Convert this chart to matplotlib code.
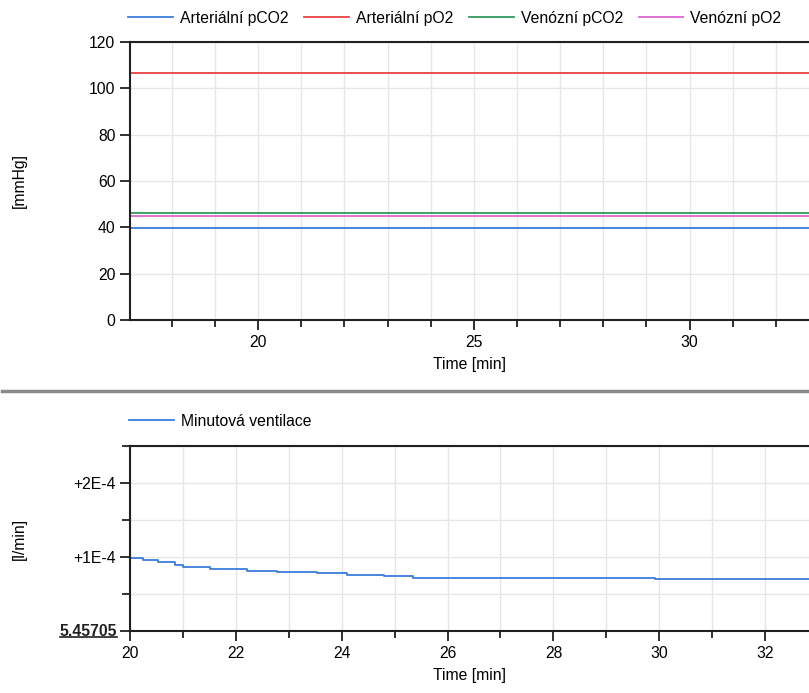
import numpy as np
import matplotlib.pyplot as plt
from matplotlib.ticker import MultipleLocator, FuncFormatter
from matplotlib.lines import Line2D

plt.rcParams['font.family'] = ['Liberation Sans', 'DejaVu Sans']

# upper panel: blood gases (constant over the window)
gas_names = ["Arteriální pCO2", "Arteriální pO2", "Venózní pCO2", "Venózní pO2"]
gas_values = [39.6, 106.6, 46.0, 44.9]
gas_colors = ["#3a7ddb", "#e8413f", "#2e9a5c", "#dd66d2"]
t_gas = [17.0, 33.0]

# lower panel: minute ventilation (stepwise)
vent_base = 5.45705
vent_t = [20.0, 20.25, 20.53, 20.85, 21.01, 21.51, 22.21, 22.77, 23.53,
          24.10, 24.79, 25.34, 29.92, 33.0]
vent_v = [5.4571486, 5.4571459, 5.4571428, 5.4571392, 5.4571360, 5.4571338,
          5.4571315, 5.4571297, 5.4571279, 5.4571252, 5.4571239, 5.4571216,
          5.4571198, 5.4571198]

W, H = 809, 693
fs = 11.3
fig = plt.figure(figsize=(W / 100, H / 100), dpi=100)

def px_axes(left, top, right, bottom):
    return fig.add_axes([left / W, 1 - bottom / H, (right - left) / W, (bottom - top) / H])

def style(ax):
    for s in ["left", "bottom", "top"]:
        ax.spines[s].set_linewidth(1.5)
        ax.spines[s].set_color("#202020")
    ax.spines["right"].set_visible(False)
    ax.tick_params(which="major", length=7, width=1.3, color="#202020", labelsize=fs)
    ax.tick_params(which="minor", length=5, width=1.3, color="#202020")
    ax.tick_params(axis="y", which="minor", length=6)
    ax.grid(True, which="both", color="#e6e6e6", linewidth=1.0)
    ax.set_axisbelow(True)

legend_kw = dict(frameon=False, fontsize=fs, handlelength=2.85,
                 handletextpad=0.45, columnspacing=1.0)

# --- top plot ---
ax1 = px_axes(130, 42, 809, 320)
for name, val, col in zip(gas_names, gas_values, gas_colors):
    ax1.plot(t_gas, [val, val], color=col, linewidth=1.3, label=name)
ax1.set_xlim(17.03, 32.77)
ax1.set_ylim(0, 120)
ax1.xaxis.set_major_locator(MultipleLocator(5))
ax1.xaxis.set_minor_locator(MultipleLocator(1))
ax1.yaxis.set_major_locator(MultipleLocator(20))
style(ax1)
ax1.set_xlabel("Time [min]", fontsize=fs, labelpad=5)
ax1.set_ylabel("[mmHg]", fontsize=fs)
ax1.yaxis.set_label_coords(-0.152, 0.5)
fig.legend(*ax1.get_legend_handles_labels(), loc="center left",
           bbox_to_anchor=(114 / W, 1 - 18 / H), ncol=4, **legend_kw)

# separator between panels
fig.add_artist(Line2D([2 / W, 1], [1 - 391 / H] * 2, color="#8a8a8a", linewidth=2.5))

# --- bottom plot ---
ax2 = px_axes(130, 446, 809, 631)
ax2.plot(vent_t, vent_v, color=gas_colors[0], linewidth=1.3,
         drawstyle="steps-post", label="Minutová ventilace")
ax2.set_xlim(20, 32.83)
ax2.set_ylim(vent_base, vent_base + 2.5e-4)
ax2.xaxis.set_major_locator(MultipleLocator(2))
ax2.xaxis.set_minor_locator(MultipleLocator(1))
ax2.set_yticks([vent_base, vent_base + 1e-4, vent_base + 2e-4])
ax2.set_yticks([vent_base + 0.5e-4, vent_base + 1.5e-4, vent_base + 2.5e-4], minor=True)

def vent_fmt(v, pos):
    k = round((v - vent_base) / 1e-4)
    return "" if k == 0 else "+%dE-4" % k

ax2.yaxis.set_major_formatter(FuncFormatter(vent_fmt))
style(ax2)
ax2.set_xlabel("Time [min]", fontsize=fs, labelpad=5)
ax2.set_ylabel("[l/min]", fontsize=fs)
ax2.yaxis.set_label_coords(-0.152, 0.5)
ax2.text(-0.019, 0.0, "%.5f" % vent_base, transform=ax2.transAxes, ha="right",
         va="center", fontsize=fs, fontweight="bold", color="#202020")
ax2.add_artist(Line2D([(60 - 130) / 679, (117 - 130) / 679], [-6 / 185] * 2,
                      transform=ax2.transAxes, color="#202020", linewidth=1.2,
                      clip_on=False))
fig.legend(*ax2.get_legend_handles_labels(), loc="center left",
           bbox_to_anchor=(115 / W, 1 - 421 / H), **legend_kw)

fig.savefig("out.png", dpi=100)
